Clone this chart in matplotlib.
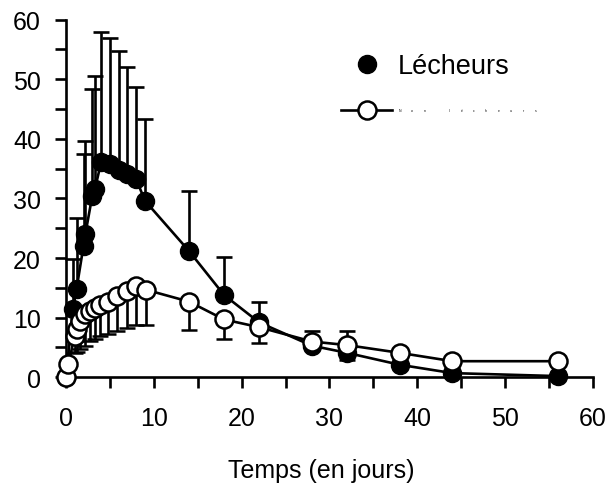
# Courbe Lécheurs / non lécheurs en fonction du temps
import numpy as np
import matplotlib.pyplot as plt
from matplotlib.lines import Line2D

plt.rcParams['font.family'] = ['Liberation Sans', 'DejaVu Sans']

# Lécheurs (cercles pleins), barres d'erreur vers le haut
t_lech = [0, 0.8, 1.2, 2.0, 2.2, 3.0, 3.3, 4, 5, 6, 7, 8, 9, 14, 18, 22, 28, 32, 38, 44, 56]
y_lech = [0, 11.5, 14.8, 22.1, 24.0, 30.5, 31.6, 36.1, 35.8, 34.7, 34.1, 33.2, 29.6,
          21.2, 13.8, 9.2, 5.3, 4.1, 2.1, 0.7, 0.2]
haut_lech = [0, 19.8, 26.7, 37.5, 39.7, 48.4, 50.6, 58.0, 57.0, 54.8, 52.0, 48.7, 43.4,
             31.3, 20.2, 12.6, 7.8, 7.8, 2.1, 0.7, 0.2]

# Non lécheurs (cercles vides), barres d'erreur vers le bas
t_non = [0, 0.27, 1.0, 1.2, 1.6, 2.16, 2.7, 3.3, 3.9, 4.8, 5.8, 6.9, 8.0, 9.07,
         14, 18, 22, 28, 32, 38, 44, 56]
y_non = [0, 2.2, 7.0, 8.1, 9.5, 10.6, 11.2, 11.7, 12.1, 12.6, 13.7, 14.5, 15.3, 14.7,
         12.7, 9.7, 8.4, 6.0, 5.4, 4.1, 2.7, 2.7]
bas_non = [0, 2.2, 4.0, 4.2, 4.8, 5.3, 6.1, 6.5, 7.0, 7.3, 7.8, 8.3, 8.7, 8.7,
           7.9, 6.5, 5.75, 6.0, 2.95, 4.1, 2.7, 2.7]

x_ticks = [0, 10, 20, 30, 40, 50, 60]
y_ticks = [0, 10, 20, 30, 40, 50, 60]

fig = plt.figure(figsize=(6.11, 4.89), dpi=100)
ax = fig.add_axes([0.108, 0.2264, 0.8625, 0.7313])

yl = np.array(y_lech)
err_l = [np.zeros(len(yl)), np.array(haut_lech) - yl]
ax.errorbar(t_lech, y_lech, yerr=err_l, fmt='o-', color='black', mfc='black',
            ms=13, lw=1.9, elinewidth=1.9, capsize=5.8, capthick=1.9, clip_on=False, zorder=3)

yn = np.array(y_non)
err_n = [yn - np.array(bas_non), np.zeros(len(yn))]
ax.errorbar(t_non, y_non, yerr=err_n, fmt='o-', color='black', mfc='white', mec='black',
            mew=1.8, ms=13, lw=1.9, elinewidth=1.9, capsize=5.8, capthick=1.9,
            clip_on=False, zorder=4)

ax.set_xlim(0, 60)
ax.set_ylim(0, 60)
ax.set_xticks(x_ticks)
ax.set_yticks(y_ticks)
ax.set_xticks(np.arange(0, 61, 5), minor=True)
ax.set_yticks(np.arange(0, 61, 5), minor=True)
ax.tick_params(which='both', direction='out', length=8, width=1.9, labelsize=18)
ax.tick_params(axis='y', pad=10)
ax.tick_params(axis='x', pad=13)
ax.spines['top'].set_visible(False)
ax.spines['right'].set_visible(False)
for s in ['left', 'bottom']:
    ax.spines[s].set_linewidth(1.9)
ax.set_xlabel('Temps (en jours)', fontsize=18, labelpad=20, x=0.484)

# légende
h1 = Line2D([], [], marker='o', ls='none', color='black', ms=13)
h2 = Line2D([], [], marker='o', ls='-', color='black', mfc='white', mew=1.8, ms=13, lw=1.9)
fig.legend(handles=[h1, h2], labels=['Lécheurs', ' '], loc='upper left',
           bbox_to_anchor=(341 / 611, 1 - 54 / 489), frameon=False, fontsize=19.5,
           handlelength=1.9, handletextpad=0.2, labelspacing=0.76, borderpad=0,
           borderaxespad=0)

# libellé minuscule de la 2e entrée
lib = 'Non lécheurs'
for i, c in enumerate(lib):
    fig.text((400 + i * 12.3) / 611, 1 - 111 / 489, c, fontsize=2.5, ha='center', va='center')

fig.savefig('out.png', dpi=100)
